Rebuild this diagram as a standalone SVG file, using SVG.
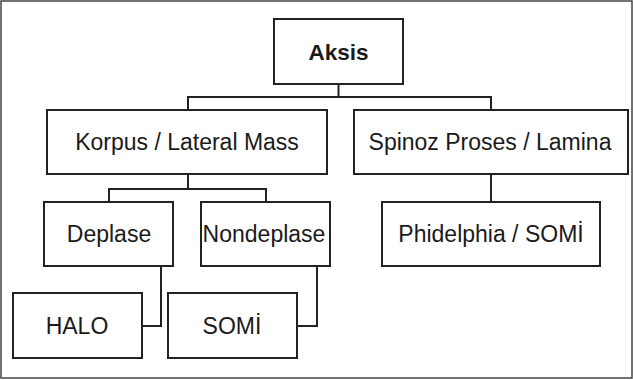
<svg xmlns="http://www.w3.org/2000/svg" width="633" height="380" viewBox="0 0 633 380">
<style>
.box{fill:#fff;stroke:#222;stroke-width:2}
.lbl{font-family:"Liberation Sans",Arial,sans-serif;font-size:23px;fill:#1a1a1a;text-anchor:middle}
.bold{font-weight:bold;font-size:22.5px}
.conn{fill:none;stroke:#222;stroke-width:2}
</style>
<rect x="1" y="1" width="631" height="377" fill="#fff" stroke="#444" stroke-width="1.5"/>
<g id="connectors">
<path class="conn" d="M338.5 84V97M188 110V97H491V110"/>
<path class="conn" d="M188 174V189M109 202V189H266V202"/>
<path class="conn" d="M491 174V202"/>
<path class="conn" d="M161 266V326H142"/>
<path class="conn" d="M317 266V326H297"/>
</g>
<g id="aksis"><rect class="box" x="274" y="19" width="129" height="65"/><text class="lbl bold" x="338.5" y="59.5">Aksis</text></g>
<g id="korpus"><rect class="box" x="47" y="110" width="280" height="64"/><text class="lbl" x="187" y="150">Korpus / Lateral Mass</text></g>
<g id="spinoz"><rect class="box" x="354" y="110" width="274" height="64"/><text class="lbl" x="490" y="150">Spinoz Proses / Lamina</text></g>
<g id="deplase"><rect class="box" x="44" y="202" width="129" height="64"/><text class="lbl" x="109" y="242">Deplase</text></g>
<g id="nondeplase"><rect class="box" x="201" y="202" width="129" height="64"/><text class="lbl" x="264" y="242">Nondeplase</text></g>
<g id="phidelphia"><rect class="box" x="382" y="202" width="218" height="64"/><text class="lbl" x="491" y="242">Phidelphia / SOMİ</text></g>
<g id="halo"><rect class="box" x="13" y="293" width="129" height="65"/><text class="lbl" x="77" y="333.5">HALO</text></g>
<g id="somi"><rect class="box" x="168" y="293" width="129" height="65"/><text class="lbl" x="232" y="333.5">SOMİ</text></g>
</svg>
